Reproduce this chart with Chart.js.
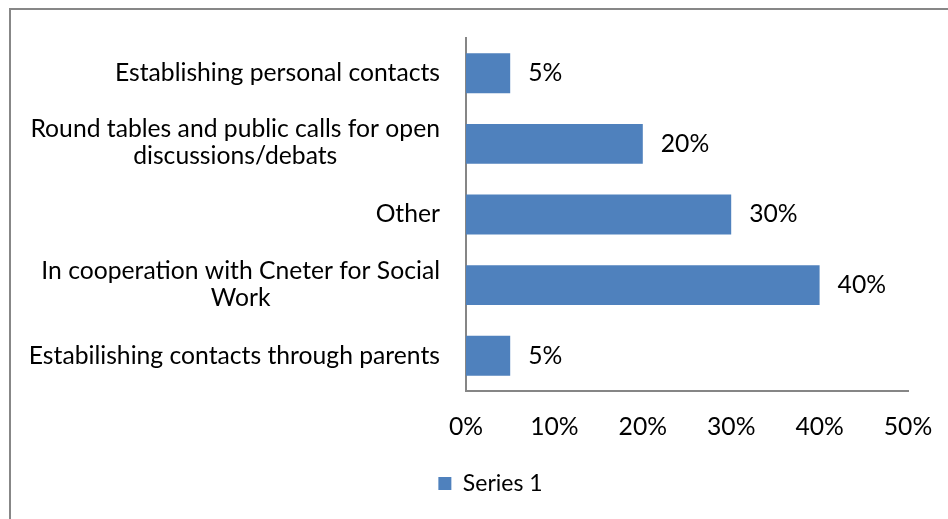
<!DOCTYPE html>
<html>
<head>
<meta charset="utf-8">
<script src="https://cdn.jsdelivr.net/npm/chart.js@4/dist/chart.umd.min.js"></script>
<style>
  html, body { margin: 0; padding: 0; background: #fff; }
  #wrap { position: relative; width: 948px; height: 519px; overflow: hidden; }
  #frame { position: absolute; left: 9px; top: 8px; width: 980px; height: 560px;
           border-left: 2px solid #878787; border-top: 2px solid #878787; pointer-events: none; }
  canvas { position: absolute; left: 0; top: 0; }
</style>
</head>
<body>
<div id="wrap">
  <canvas id="chart" width="948" height="519"></canvas>
  <div id="frame"></div>
</div>
<script>
// Category labels (each entry is one label, split into its display lines)
const categories = [
  ['Establishing personal contacts'],
  ['Round tables and public calls for open', 'discussions/debats'],
  ['Other'],
  ['In cooperation with Cneter for Social', 'Work'],
  ['Estabilishing contacts through parents']
];
const seriesName = 'Series 1';
const values = [5, 20, 30, 40, 5];          // percent
const xTickValues = [0, 10, 20, 30, 40, 50]; // percent

const FONT = 'Lato, "Open Sans", sans-serif';
const FONT_SIZE = 24.7;
const AXIS_COLOR = '#868686';
const BAR_COLOR = '#4F81BD';

// Multi-line category labels: lines centred on each other, block right-aligned to the axis
const categoryLabels = {
  id: 'categoryLabels',
  afterDraw(chart) {
    const ctx = chart.ctx;
    const yScale = chart.scales.y;
    ctx.save();
    ctx.font = FONT_SIZE + 'px ' + FONT;
    ctx.fillStyle = '#000';
    ctx.textAlign = 'center';
    ctx.textBaseline = 'middle';
    const lineH = 27;
    categories.forEach((lines, i) => {
      const cy = yScale.getPixelForTick(i) - (lines.length > 1 ? 1 : 0);
      const w = Math.max(...lines.map(l => ctx.measureText(l).width));
      const cx = chart.chartArea.left - 26 - w / 2;
      lines.forEach((l, j) => {
        ctx.fillText(l, cx, cy + (j - (lines.length - 1) / 2) * lineH);
      });
    });
    ctx.restore();
  }
};

// Value labels at the end of each bar
const valueLabels = {
  id: 'valueLabels',
  afterDatasetsDraw(chart) {
    const ctx = chart.ctx;
    const meta = chart.getDatasetMeta(0);
    ctx.save();
    ctx.font = FONT_SIZE + 'px ' + FONT;
    ctx.fillStyle = '#000';
    ctx.textAlign = 'left';
    ctx.textBaseline = 'middle';
    meta.data.forEach((bar, i) => {
      ctx.fillText(values[i] + '%', bar.x + 18, bar.y);
    });
    ctx.restore();
  }
};

Chart.defaults.font.family = FONT;
Chart.defaults.font.size = FONT_SIZE;
Chart.defaults.color = '#000';

new Chart(document.getElementById('chart'), {
  type: 'bar',
  data: {
    labels: categories.map(l => l.join(' ')),
    datasets: [{
      label: seriesName,
      data: values,
      backgroundColor: BAR_COLOR,
      borderWidth: 0,
      categoryPercentage: 1,
      barPercentage: 0.565
    }]
  },
  options: {
    indexAxis: 'y',
    responsive: false,
    animation: false,
    layout: { padding: { left: 73, right: 40, top: 38, bottom: 14 } },
    scales: {
      x: {
        min: 0,
        max: 50,
        afterBuildTicks: s => { s.ticks = xTickValues.map(v => ({ value: v })); },
        afterFit: s => { s.height = 71; s.paddingLeft = 0; s.paddingRight = 0; },
        grid: { display: false, drawTicks: false },
        border: { display: true, color: AXIS_COLOR, width: 2 },
        ticks: { padding: 21, callback: v => v + '%', maxRotation: 0, autoSkip: false }
      },
      y: {
        afterFit: s => { s.width = 466 - 73; },
        grid: { display: false, drawTicks: false },
        border: { display: true, color: AXIS_COLOR, width: 2 },
        ticks: { display: false }
      }
    },
    plugins: {
      legend: {
        position: 'bottom',
        labels: { boxWidth: 13, boxHeight: 13, padding: 10, color: '#000', font: { size: 23 } }
      },
      tooltip: { enabled: false }
    }
  },
  plugins: [categoryLabels, valueLabels]
});
</script>
</body>
</html>
